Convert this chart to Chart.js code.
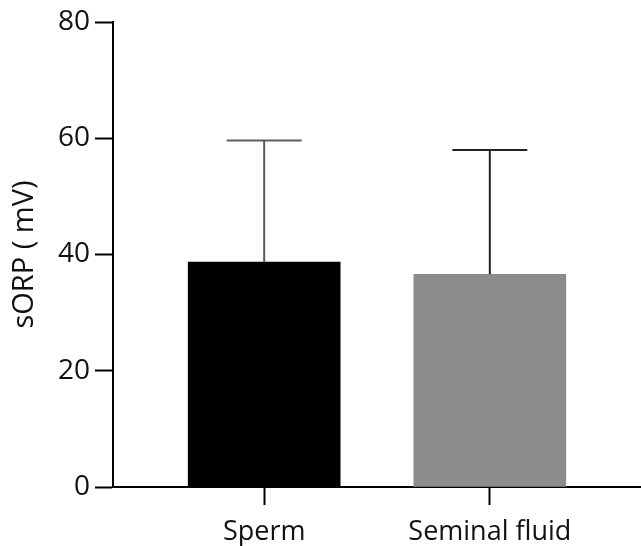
<!DOCTYPE html>
<html>
<head>
<meta charset="utf-8">
<script src="https://cdn.jsdelivr.net/npm/chart.js@4.4.1/dist/chart.umd.min.js"></script>
<style>
  html, body { margin: 0; padding: 0; background: #fff; }
  canvas { display: block; }
</style>
</head>
<body>
<canvas id="c" width="641" height="546"></canvas>
<script>
const categories = ['Sperm', 'Seminal fluid'];
const means = [38.7, 36.6];
const errors = [20.9, 21.4];
const yTicks = [0, 20, 40, 60, 80];
const yTitle = 'sORP ( mV)';

const barColors = ['#000000', '#8c8c8c'];
const errColors = ['#5c5c5c', '#222222'];
const FONT = "'Open Sans', sans-serif";

const errorBarPlugin = {
  id: 'errorBars',
  afterDatasetsDraw(chart) {
    const ctx = chart.ctx;
    const yScale = chart.scales.y;
    const meta = chart.getDatasetMeta(0);
    meta.data.forEach((bar, i) => {
      const x = bar.x;
      const yTop = yScale.getPixelForValue(means[i] + errors[i]);
      const yBase = bar.y;
      ctx.save();
      ctx.strokeStyle = errColors[i];
      ctx.lineWidth = 2;
      ctx.beginPath();
      ctx.moveTo(x, yBase);
      ctx.lineTo(x, yTop);
      ctx.moveTo(x - 37.5, yTop);
      ctx.lineTo(x + 37.5, yTop);
      ctx.stroke();
      ctx.restore();
    });
  }
};

new Chart(document.getElementById('c'), {
  type: 'bar',
  data: {
    datasets: [{
      data: categories.map((c, i) => ({ x: i + 1, y: means[i] })),
      backgroundColor: barColors,
      borderWidth: 0,
      barThickness: 152
    }]
  },
  options: {
    responsive: false,
    animation: false,
    layout: { padding: { top: 22, right: 0, bottom: 0, left: 0 } },
    plugins: { legend: { display: false }, tooltip: { enabled: false } },
    scales: {
      x: {
        type: 'linear',
        offset: false,
        min: 0.33,
        max: 2.67,
        afterBuildTicks: s => { s.ticks = categories.map((_, i) => ({ value: i + 1 })); },
        afterFit: s => { s.height = 59; },
        border: { display: true, color: '#000', width: 2 },
        grid: { display: true, offset: false, drawOnChartArea: false, drawTicks: true, tickLength: 18, tickWidth: 2, tickColor: '#000' },
        ticks: {
          callback: v => categories[Math.round(v) - 1],
          color: '#111',
          font: { family: FONT, size: 27, weight: 400 },
          padding: 11,
          maxRotation: 0,
          autoSkip: false
        }
      },
      y: {
        min: 0,
        max: 80,
        afterBuildTicks: s => { s.ticks = yTicks.map(v => ({ value: v })); },
        afterFit: s => { s.width = 113; },
        border: { display: true, color: '#000', width: 2 },
        grid: { display: true, drawOnChartArea: false, drawTicks: true, tickLength: 18, tickWidth: 2, tickColor: '#000' },
        ticks: {
          color: '#111',
          font: { family: FONT, size: 28, weight: 400 },
          padding: 5
        },
        title: {
          display: true,
          text: yTitle,
          color: '#111',
          font: { family: FONT, size: 29, weight: 400 },
          padding: { top: 7, bottom: 0 }
        }
      }
    }
  },
  plugins: [errorBarPlugin]
});
</script>
</body>
</html>
